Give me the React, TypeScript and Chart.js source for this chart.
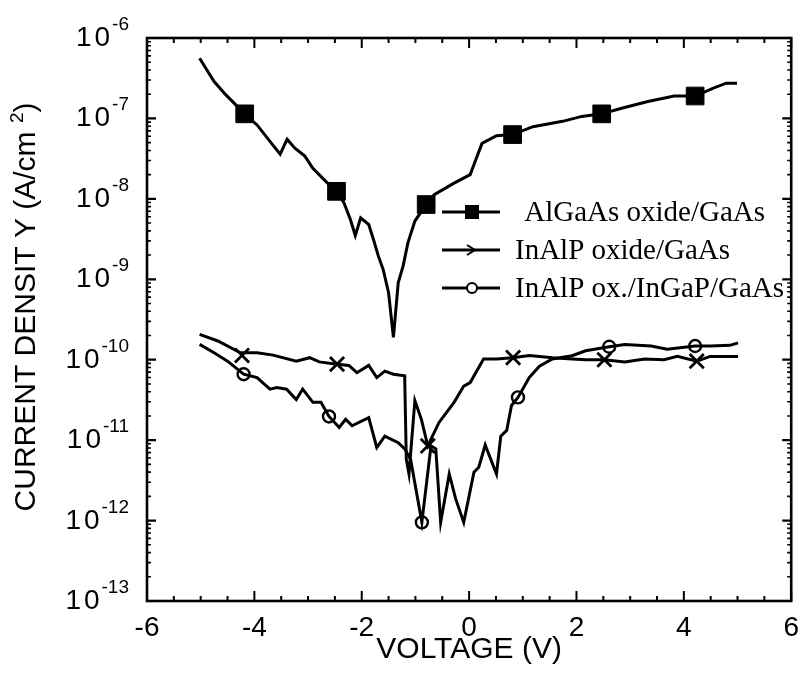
import React, { useEffect, useRef } from 'react';
import { Chart, registerables } from 'chart.js';

Chart.register(...registerables);

// ---------- data (voltage V, current density A/cm^2) ----------
const algaasV = [-5.02, -4.75, -4.53, -4.18, -3.95, -3.68, -3.52, -3.39, -3.25, -3.06, -2.91, -2.67, -2.47, -2.33, -2.21, -2.12, -2.02, -1.87, -1.78, -1.69, -1.6, -1.5, -1.41, -1.32, -1.23, -1.14, -1.01, -0.8, -0.65, -0.28, 0.02, 0.24, 0.51, 0.81, 1.19, 1.74, 2.1, 2.47, 2.84, 3.33, 3.82, 4.21, 4.55, 4.79, 4.99];
const algaasJ = [5.6e-7, 2.87e-7, 1.96e-7, 1.14e-7, 8.3e-8, 4.9e-8, 3.6e-8, 5.5e-8, 4.3e-8, 3.4e-8, 2.4e-8, 1.65e-8, 1.24e-8, 8.9e-9, 5.5e-9, 3.5e-9, 5.8e-9, 4.8e-9, 3.1e-9, 1.94e-9, 1.32e-9, 6.8e-10, 1.9e-10, 9.1e-10, 1.46e-9, 2.84e-9, 5.3e-9, 8.5e-9, 1.13e-8, 1.57e-8, 2.0e-8, 4.9e-8, 6.1e-8, 6.3e-8, 7.9e-8, 9.2e-8, 1.06e-7, 1.14e-7, 1.34e-7, 1.62e-7, 1.9e-7, 1.9e-7, 2.38e-7, 2.74e-7, 2.74e-7];

const inalpV = [-5.02, -4.68, -4.26, -3.95, -3.65, -3.22, -2.97, -2.79, -2.46, -2.24, -2.09, -1.87, -1.72, -1.57, -1.41, -1.2, -1.17, -1.12, -1.01, -0.89, -0.77, -0.56, -0.28, -0.1, 0.02, 0.27, 0.51, 0.82, 1.12, 1.55, 1.92, 2.17, 2.52, 2.9, 3.27, 3.63, 3.88, 4.24, 4.49, 5.01];
const inalpJ = [2.07e-10, 1.71e-10, 1.22e-10, 1.22e-10, 1.14e-10, 9.6e-11, 1.06e-10, 9.4e-11, 8.8e-11, 8.5e-11, 6.9e-11, 8.5e-11, 6.0e-11, 7.2e-11, 6.6e-11, 6.3e-11, 5.8e-12, 3.8e-12, 3.1e-11, 1.82e-11, 8.5e-12, 1.66e-11, 2.95e-11, 4.7e-11, 5.2e-11, 1.02e-10, 1.02e-10, 1.06e-10, 1.13e-10, 1.06e-10, 1.02e-10, 1.0e-10, 1.0e-10, 9.4e-11, 1.02e-10, 1.0e-10, 1.1e-10, 9.6e-11, 1.1e-10, 1.1e-10];

const ingapV = [-5.02, -4.75, -4.5, -4.2, -3.95, -3.71, -3.58, -3.4, -3.22, -3.1, -2.91, -2.76, -2.61, -2.42, -2.3, -2.18, -1.87, -1.72, -1.57, -1.32, -1.2, -1.09, -0.88, -0.71, -0.62, -0.53, -0.37, -0.25, -0.1, 0.09, 0.18, 0.3, 0.51, 0.59, 0.7, 0.79, 0.91, 1.12, 1.31, 1.55, 1.92, 2.17, 2.61, 2.9, 3.39, 3.69, 4.21, 4.49, 4.86, 5.01];
const ingapJ = [1.55e-10, 1.22e-10, 9.6e-11, 6.6e-11, 6.0e-11, 4.3e-11, 4.5e-11, 4.3e-11, 3.2e-11, 4.3e-11, 2.95e-11, 2.95e-11, 1.97e-11, 1.44e-11, 1.82e-11, 1.51e-11, 1.9e-11, 8.1e-12, 1.12e-11, 9.3e-12, 7.8e-12, 5.8e-12, 9.5e-13, 8.5e-12, 7.8e-12, 9.5e-13, 3.8e-12, 1.86e-12, 9.5e-13, 4.0e-12, 4.6e-12, 8.7e-12, 3.8e-12, 1.12e-11, 1.32e-11, 2.7e-11, 3.4e-11, 6.0e-11, 8.3e-11, 1.02e-10, 1.12e-10, 1.29e-10, 1.45e-10, 1.55e-10, 1.48e-10, 1.35e-10, 1.48e-10, 1.48e-10, 1.51e-10, 1.62e-10];

// marker positions
const algaasMarkV = [-4.18, -2.47, -0.8, 0.81, 2.47, 4.21];
const algaasMarkJ = [1.14e-7, 1.24e-8, 8.5e-9, 6.3e-8, 1.14e-7, 1.9e-7];
const inalpMarkV = [-4.23, -2.46, -0.77, 0.82, 2.52, 4.24];
const inalpMarkJ = [1.13e-10, 8.8e-11, 8.5e-12, 1.06e-10, 1.0e-10, 9.6e-11];
const ingapMarkV = [-4.2, -2.61, -0.88, 0.91, 2.61, 4.21];
const ingapMarkJ = [6.6e-11, 1.97e-11, 9.5e-13, 3.4e-11, 1.45e-10, 1.48e-10];

// labels / ticks
const seriesNames = [' AlGaAs oxide/GaAs', 'InAlP oxide/GaAs', 'InAlP ox./InGaP/GaAs'];
const yDecadeExponents = [-6, -7, -8, -9, -10, -11, -12, -13];
const xTitle = 'VOLTAGE (V)';
const yTitleMain = 'CURRENT DENSIT Y (A/cm ';
const yTitleSup = '2';
const yTitleEnd = ')';

const SANS = '"Liberation Sans", Arial, Helvetica, sans-serif';
const SERIF = '"Liberation Serif", "Times New Roman", serif';

const pts = (v: number[], j: number[]) => v.map((x, i) => ({ x, y: j[i] }));

const axesPlugin = {
  id: 'axesDecor',
  afterDraw(chart: any) {
    const { ctx, chartArea, scales } = chart;
    const { left, right, top, bottom } = chartArea;
    const xs = scales.x;
    const ys = scales.y;
    ctx.save();
    ctx.strokeStyle = '#000';
    ctx.lineCap = 'butt';
    // x ticks (bottom + top), every 0.5 V
    ctx.lineWidth = 2;
    for (let i = -12; i <= 12; i++) {
      const px = xs.getPixelForValue(i / 2);
      const len = i % 4 === 0 ? 10 : 5;
      ctx.beginPath();
      ctx.moveTo(px, bottom);
      ctx.lineTo(px, bottom - len);
      ctx.moveTo(px, top);
      ctx.lineTo(px, top + len);
      ctx.stroke();
    }
    // y ticks (left + right)
    for (let e = -13; e <= -6; e++) {
      const py = ys.getPixelForValue(Math.pow(10, e));
      ctx.lineWidth = 2.2;
      ctx.beginPath();
      ctx.moveTo(left, py);
      ctx.lineTo(left + 9, py);
      ctx.moveTo(right, py);
      ctx.lineTo(right - 9, py);
      ctx.stroke();
      if (e < -6) {
        ctx.lineWidth = 1.6;
        for (let m = 2; m <= 9; m++) {
          const pm = ys.getPixelForValue(m * Math.pow(10, e));
          ctx.beginPath();
          ctx.moveTo(left, pm);
          ctx.lineTo(left + 4, pm);
          ctx.moveTo(right, pm);
          ctx.lineTo(right - 4, pm);
          ctx.stroke();
        }
      }
    }
    // frame
    ctx.lineWidth = 2.6;
    ctx.strokeRect(left, top, right - left, bottom - top);

    // y tick labels 10^n
    ctx.fillStyle = '#000';
    ctx.textBaseline = 'alphabetic';
    ctx.textAlign = 'right';
    const labelRight = 129;
    yDecadeExponents.forEach((e) => {
      const py = ys.getPixelForValue(Math.pow(10, e));
      const expText = String(e);
      ctx.font = `19px ${SANS}`;
      const w = ctx.measureText(expText).width;
      ctx.fillText(expText, labelRight, py - 8);
      ctx.font = `28px ${SANS}`;
      const zeroRight = labelRight - w - 2;
      const w0 = ctx.measureText('0').width;
      ctx.fillText('0', zeroRight, py + 8);
      ctx.fillText('1', zeroRight - w0 - 3, py + 8);
    });

    // y title (rotated)
    ctx.save();
    ctx.translate(27, 307);
    ctx.rotate(-Math.PI / 2);
    ctx.textAlign = 'left';
    ctx.textBaseline = 'middle';
    ctx.font = `30px ${SANS}`;
    const wMain = ctx.measureText(yTitleMain).width;
    ctx.font = `19px ${SANS}`;
    const wSup = ctx.measureText(yTitleSup).width;
    ctx.font = `30px ${SANS}`;
    const wEnd = ctx.measureText(yTitleEnd).width;
    const total = wMain + wSup + wEnd;
    let tx = -total / 2;
    ctx.fillText(yTitleMain, tx, 0);
    tx += wMain;
    ctx.font = `19px ${SANS}`;
    ctx.fillText(yTitleSup, tx, -9);
    tx += wSup;
    ctx.font = `30px ${SANS}`;
    ctx.fillText(yTitleEnd, tx, 0);
    ctx.restore();

    // legend
    const rowsY = [212, 250, 288];
    const textX = [517, 515, 515];
    rowsY.forEach((ly, i) => {
      ctx.strokeStyle = '#000';
      ctx.fillStyle = '#000';
      ctx.lineWidth = 3;
      ctx.beginPath();
      ctx.moveTo(442, ly);
      ctx.lineTo(500, ly);
      ctx.stroke();
      const mx = 472;
      if (i === 0) {
        ctx.fillRect(mx - 7, ly - 7, 14, 14);
      } else if (i === 1) {
        ctx.lineWidth = 2;
        ctx.beginPath();
        ctx.moveTo(mx - 5, ly - 5);
        ctx.lineTo(mx + 3, ly);
        ctx.lineTo(mx - 5, ly + 5);
        ctx.stroke();
      } else {
        ctx.lineWidth = 2;
        ctx.beginPath();
        ctx.arc(mx, ly, 5, 0, Math.PI * 2);
        ctx.fillStyle = '#fff';
        ctx.fill();
        ctx.stroke();
        ctx.fillStyle = '#000';
      }
      ctx.font = `29px ${SERIF}`;
      ctx.textAlign = 'left';
      ctx.textBaseline = 'alphabetic';
      ctx.fillText(seriesNames[i], textX[i], ly + 8.5);
    });
    ctx.restore();
  },
};

export default function App() {
  const ref = useRef<HTMLCanvasElement>(null);
  useEffect(() => {
    const canvas = ref.current;
    if (!canvas) return;
    const lineStyle = {
      showLine: true,
      borderColor: '#000',
      backgroundColor: '#000',
      borderWidth: 3,
      pointRadius: 0,
      tension: 0,
    };
    const chart = new Chart(canvas, {
      type: 'scatter',
      data: {
        datasets: [
          { label: seriesNames[0], data: pts(algaasV, algaasJ), ...lineStyle },
          { label: seriesNames[1], data: pts(inalpV, inalpJ), ...lineStyle },
          { label: seriesNames[2], data: pts(ingapV, ingapJ), ...lineStyle },
          {
            label: seriesNames[0] + ' markers',
            data: pts(algaasMarkV, algaasMarkJ),
            showLine: false,
            pointStyle: 'rect',
            pointRadius: 12.5,
            backgroundColor: '#000',
            borderColor: '#000',
            borderWidth: 1,
          },
          {
            label: seriesNames[1] + ' markers',
            data: pts(inalpMarkV, inalpMarkJ),
            showLine: false,
            pointStyle: 'crossRot',
            pointRadius: 10,
            borderColor: '#000',
            borderWidth: 2.8,
          },
          {
            label: seriesNames[2] + ' markers',
            data: pts(ingapMarkV, ingapMarkJ),
            showLine: false,
            pointStyle: 'circle',
            pointRadius: 6,
            backgroundColor: '#fff',
            borderColor: '#000',
            borderWidth: 2.4,
          },
        ],
      },
      options: {
        responsive: false,
        animation: false,
        events: [],
        layout: { padding: { left: 0, right: 11, top: 38, bottom: 0 } },
        plugins: {
          legend: { display: false },
          tooltip: { enabled: false },
        },
        scales: {
          x: {
            type: 'linear',
            min: -6,
            max: 6,
            grid: { display: false, drawTicks: false },
            border: { display: false },
            ticks: {
              stepSize: 2,
              padding: 10,
              color: '#000',
              font: { family: SANS, size: 28 },
              callback: (v: any) => String(v),
            },
            title: {
              display: true,
              text: xTitle,
              color: '#000',
              font: { family: SANS, size: 30 },
              padding: { top: 0, bottom: 5 },
            },
            afterFit: (s: any) => {
              s.height = 72;
            },
          },
          y: {
            type: 'logarithmic',
            min: 1e-13,
            max: 1e-6,
            grid: { display: false, drawTicks: false },
            border: { display: false },
            ticks: { display: false },
            title: { display: false },
            afterFit: (s: any) => {
              s.width = 147;
            },
          },
        },
      },
      plugins: [axesPlugin],
    } as any);
    return () => chart.destroy();
  }, []);
  return (
    <div style={{ position: 'fixed', left: 0, top: 0, width: 809, height: 673, background: '#fff' }}>
      <canvas ref={ref} width={809} height={673} style={{ display: 'block', width: 809, height: 673 }} />
    </div>
  );
}
